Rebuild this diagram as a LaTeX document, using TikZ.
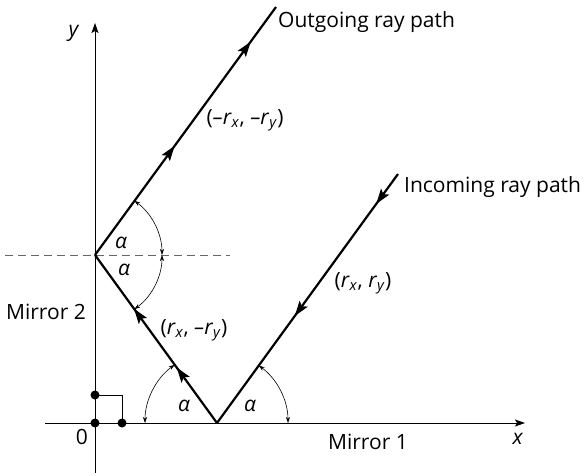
\documentclass[tikz,border=0pt]{standalone}
\usepackage{fontspec}
\setmainfont{Open Sans}
\usetikzlibrary{arrows.meta,decorations.markings}
\newcommand{\rsub}[2]{\textit{#1r}\textsubscript{\textit{#2}}}
\begin{document}
\begin{tikzpicture}[x=1pt,y=1pt,
  ray/.style={line width=2.2pt},
  axisline/.style={line width=0.9pt,-{Stealth[length=10pt,width=7pt,inset=2pt]}},
  angarc/.style={line width=0.6pt,{Stealth[length=6pt,width=4pt]}-{Stealth[length=6pt,width=4pt]}},
  lbl/.style={font=\fontsize{21}{25}\selectfont, inner sep=0pt},
  dot/.style={circle,fill,inner sep=0pt,minimum size=9pt},
  midarrows/.style 2 args={postaction={decorate},decoration={markings,
     mark=at position #1 with {\arrow{Stealth[length=15pt,width=10pt,inset=3pt]}},
     mark=at position #2 with {\arrow{Stealth[length=15pt,width=10pt,inset=3pt]}}}}
]
\useasboundingbox (0,0) rectangle (587,475);
% key points
\coordinate (O) at (95,52);
\coordinate (M1) at (217,52);
\coordinate (M2) at (95,220);
\coordinate (OutEnd) at (276,468);
\coordinate (InEnd) at (398,301);
\coordinate (ybot) at (95,2);
\coordinate (ytop) at (95,452);
\coordinate (xl) at (45,52);
\coordinate (xr) at (525,52);
\coordinate (dl) at (5,220);
\coordinate (dr) at (230,220);
\coordinate (sqa) at (95,80);
\coordinate (sqb) at (122,80);
\coordinate (sqc) at (122,52);
% axes
\draw[axisline] (ybot) -- (ytop);
\draw[axisline] (xl) -- (xr);
% dashed normal
\draw[gray!80!black, line width=0.9pt, dash pattern=on 8pt off 5pt] (dl) -- (dr);
% right-angle marker
\draw[line width=0.9pt] (sqa) -- (sqb) -- (sqc);
\node[dot] (d0) at (O) {};
\node[dot] (d1) at (sqa) {};
\node[dot] (d2) at (sqc) {};
% rays
\draw[ray, midarrows={0.44}{0.86}] (M2) -- (OutEnd);
\draw[ray, midarrows={0.33}{0.68}] (M1) -- (M2);
\draw[ray, midarrows={0.12}{0.57}] (InEnd) -- (M1);
% angle arcs
\draw[angarc] ([shift={(0:67pt)}]M2) arc[start angle=0, end angle=54, radius=67pt];
\draw[angarc] ([shift={(-54:67pt)}]M2) arc[start angle=-54, end angle=0, radius=67pt];
\draw[angarc] ([shift={(126:72pt)}]M1) arc[start angle=126, end angle=180, radius=72pt];
\draw[angarc] ([shift={(54:71pt)}]M1) arc[start angle=54, end angle=0, radius=71pt];
% labels
\node[lbl, anchor=west] (outl) at (278,453) {Outgoing ray path};
\node[lbl, anchor=west] (inl) at (404,288) {Incoming ray path};
\node[lbl] (v1) at (245,355) {(\rsub{–}{x}, \rsub{–}{y})};
\node[lbl] (v2) at (363,192) {(\rsub{}{x}, \rsub{}{y})};
\node[lbl] (v3) at (194,145) {(\rsub{}{x}, \rsub{–}{y})};
\node[lbl] (m2) at (46,163) {Mirror 2};
\node[lbl] (m1) at (368,33) {Mirror 1};
\node[lbl] (xlab) at (518,36) {\textit{x}};
\node[lbl] (ylab) at (74,442) {\textit{y}};
\node[lbl] (zero) at (82,38) {0};
\node[lbl] (a1) at (121,232) {\textit{α}};
\node[lbl] (a2) at (124,205) {\textit{α}};
\node[lbl] (a3) at (184,69) {\textit{α}};
\node[lbl] (a4) at (250,69) {\textit{α}};
\end{tikzpicture}
\end{document}
